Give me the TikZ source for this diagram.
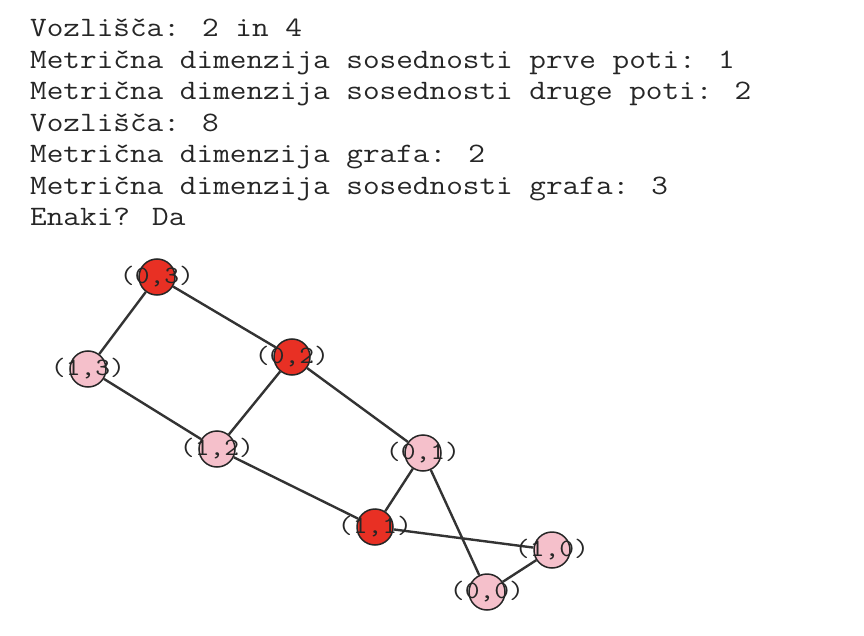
\documentclass[tikz,border=0pt]{standalone}
\usepackage{fontspec}
\newfontfamily\monofnt{Latin Modern Mono}[FakeStretch=1.15]
\definecolor{nodered}{RGB}{232,48,36}
\definecolor{nodepink}{RGB}{245,192,203}
\begin{document}
\begin{tikzpicture}[x=1pt,y=1pt,
  outline/.style={font=\monofnt\fontsize{28.1}{31.5}\selectfont, anchor=base west, inner sep=0pt, text=black!85},
  vtx/.style={circle, draw=black!85, line width=1.5pt, minimum size=36pt, inner sep=0pt},
  redv/.style={vtx, fill=nodered},
  pinkv/.style={vtx, fill=nodepink},
  lbl/.style={font=\monofnt\fontsize{25}{25}\selectfont, inner sep=0pt, text=black!85},
  edge/.style={line width=2.4pt, draw=black!80}]
\useasboundingbox (0,0) rectangle (864,-636);
\node[outline] (t1) at (30,-37) {Vozlišča: 2 in 4};
\node[outline] (t2) at (30,-68.5) {Metrična dimenzija sosednosti prve poti: 1};
\node[outline] (t3) at (30,-100) {Metrična dimenzija sosednosti druge poti: 2};
\node[outline] (t4) at (30,-131.5) {Vozlišča: 8};
\node[outline] (t5) at (30,-163) {Metrična dimenzija grafa: 2};
\node[outline] (t6) at (30,-194.5) {Metrična dimenzija sosednosti grafa: 3};
\node[outline] (t7) at (30,-226) {Enaki? Da};
% vertices
\node[redv]  (v03) at (157,-277) {};
\node[pinkv] (v13) at (88,-369) {};
\node[redv]  (v02) at (292,-357) {};
\node[pinkv] (v12) at (217,-449) {};
\node[pinkv] (v01) at (423,-453) {};
\node[redv]  (v11) at (375,-527) {};
\node[pinkv] (v10) at (552,-550) {};
\node[pinkv] (v00) at (487,-592) {};
% edges
\draw[edge] (v03) -- (v13);
\draw[edge] (v03) -- (v02);
\draw[edge] (v13) -- (v12);
\draw[edge] (v02) -- (v12);
\draw[edge] (v02) -- (v01);
\draw[edge] (v12) -- (v11);
\draw[edge] (v01) -- (v11);
\draw[edge] (v01) -- (v00);
\draw[edge] (v11) -- (v10);
\draw[edge] (v10) -- (v00);
% labels
\node[lbl] (l03) at (v03) {(0,3)};
\node[lbl] (l13) at (v13) {(1,3)};
\node[lbl] (l02) at (v02) {(0,2)};
\node[lbl] (l12) at (v12) {(1,2)};
\node[lbl] (l01) at (v01) {(0,1)};
\node[lbl] (l11) at (v11) {(1,1)};
\node[lbl] (l10) at (v10) {(1,0)};
\node[lbl] (l00) at (v00) {(0,0)};
\end{tikzpicture}
\end{document}
